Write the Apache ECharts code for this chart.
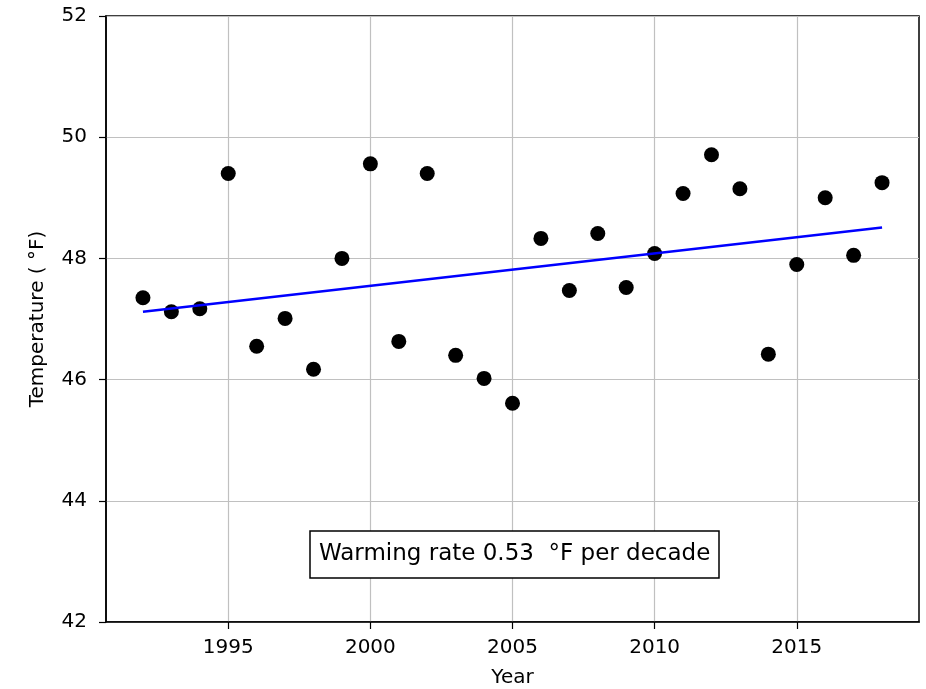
<!DOCTYPE html>
<html>
<head>
<meta charset="utf-8">
<script src="https://cdn.jsdelivr.net/npm/echarts@6/dist/echarts.min.js"></script>
<style>
html,body{margin:0;padding:0;background:#fff;}
#chart{width:926px;height:689px;}
</style>
</head>
<body>
<div id="chart"></div>
<script>
const years = [1992,1993,1994,1995,1996,1997,1998,1999,2000,2001,2002,2003,2004,2005,2006,2007,2008,2009,2010,2011,2012,2013,2014,2015,2016,2017,2018];
const temps = [47.35,47.12,47.17,49.40,46.55,47.01,46.17,48.00,49.56,46.63,49.40,46.40,46.02,45.61,48.33,47.47,48.41,47.52,48.08,49.07,49.71,49.15,46.42,47.90,49.00,48.05,49.25];
const trendYears = [1992, 2018];
const trendTemps = [47.12, 48.51];
const xTicks = [1995, 2000, 2005, 2010, 2015];
const yTicks = [42, 44, 46, 48, 50, 52];
const annotation = 'Warming rate 0.53  \u00B0F per decade';

const FONT = 'DejaVu Sans';
const chart = echarts.init(document.getElementById('chart'), null, {renderer: 'canvas'});
chart.setOption({
  animation: false,
  backgroundColor: '#ffffff',
  grid: {left: 106, right: 7, top: 16, bottom: 67, show: true, borderColor: '#000', borderWidth: 1.5, backgroundColor: 'transparent', outerBoundsMode: 'none', containLabel: false},
  title: {
    text: annotation,
    left: 310, top: 531,
    borderColor: '#000', borderWidth: 1.5,
    padding: [12, 9, 12, 9],
    textStyle: {fontFamily: FONT, fontSize: 23, fontWeight: 'normal', color: '#000'},
    backgroundColor: '#fff'
  },
  xAxis: {
    type: 'value', min: 1990.7, max: 2019.3,
    name: 'Year', nameLocation: 'middle', nameGap: 46,
    nameTextStyle: {fontFamily: FONT, fontSize: 20, color: '#000'},
    axisLine: {show: true, onZero: false, lineStyle: {color: '#000', width: 1.5}},
    axisTick: {show: true, inside: false, length: 7, lineStyle: {color: '#000', width: 1.2}, customValues: xTicks},
    axisLabel: {customValues: xTicks, margin: 16, fontFamily: FONT, fontSize: 20, color: '#000', formatter: v => String(v)},
    splitLine: {show: true, lineStyle: {color: '#c0c0c0', width: 1.2}}
  },
  yAxis: {
    type: 'value', min: 42, max: 52, interval: 2,
    name: 'Temperature ( \u00B0F)', nameLocation: 'middle', nameGap: 58,
    nameTextStyle: {fontFamily: FONT, fontSize: 20, color: '#000'},
    axisLine: {show: true, onZero: false, lineStyle: {color: '#000', width: 1.5}},
    axisTick: {show: true, inside: false, length: 7, lineStyle: {color: '#000', width: 1.2}},
    axisLabel: {margin: 19, fontFamily: FONT, fontSize: 20, color: '#000', formatter: v => (yTicks.includes(v) ? String(v) : '')},
    splitLine: {show: true, lineStyle: {color: '#c0c0c0', width: 1.2}}
  },
  series: [
    {
      type: 'scatter', data: years.map((y, i) => [y, temps[i]]),
      symbol: 'circle', symbolSize: 15, itemStyle: {color: '#000', opacity: 1}, z: 3
    },
    {
      type: 'line', data: trendYears.map((y, i) => [y, trendTemps[i]]),
      showSymbol: false, symbol: 'none', lineStyle: {color: '#0000ff', width: 2.5}, z: 4
    }
  ]
});
</script>
</body>
</html>
